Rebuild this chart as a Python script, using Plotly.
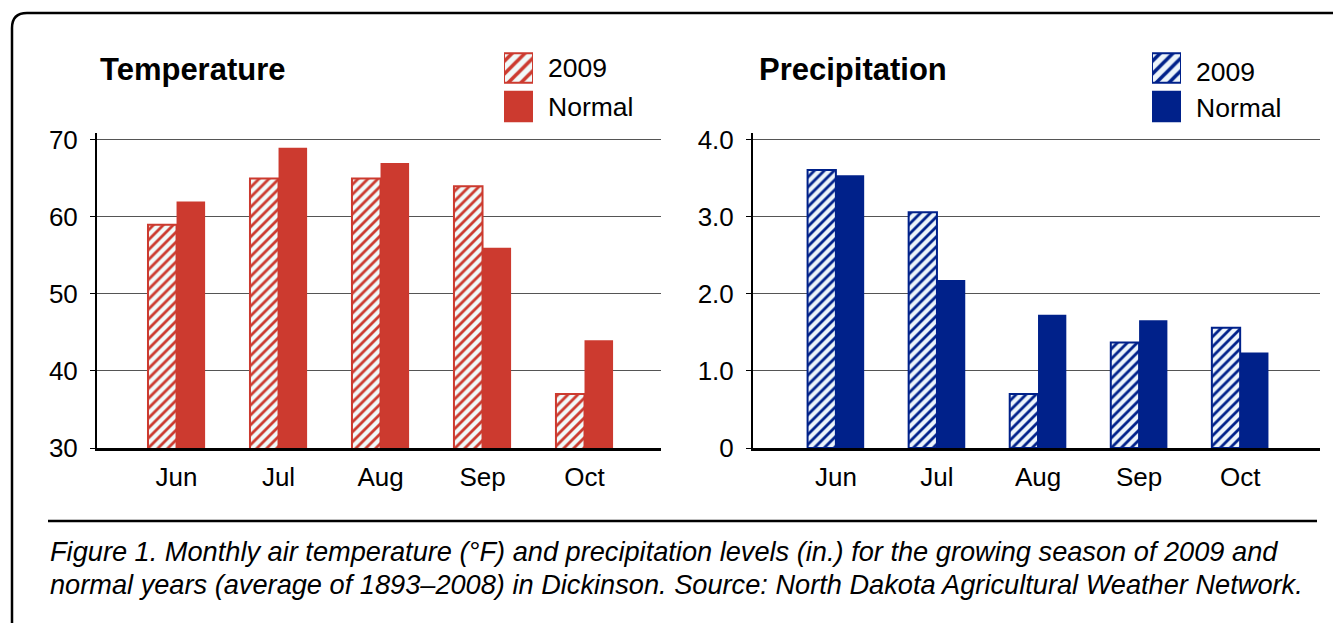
import plotly.graph_objects as go

months = ["Jun", "Jul", "Aug", "Sep", "Oct"]
temp_2009 = [59, 65, 65, 64, 37]
temp_normal = [62, 69, 67, 56, 44]
precip_2009 = [3.61, 3.06, 0.70, 1.37, 1.56]
precip_normal = [3.54, 2.18, 1.73, 1.66, 1.24]
temp_ticks = [30, 40, 50, 60, 70]
precip_ticks = [0, 1, 2, 3, 4]
precip_ticklabels = ["0", "1.0", "2.0", "3.0", "4.0"]
series_names = ["2009", "Normal"]

RED = "#CC3A2F"
BLUE = "#00218A"
W, H = 1341, 623
OFF = 8  # page body margin offset
FONT = "Liberation Sans, Arial, sans-serif"


def px(x):
    return (x - OFF) / W


def py(y):
    return 1 - (y - OFF) / H


fig = go.Figure()

# Temperature bars
fig.add_trace(go.Bar(x=months, y=temp_2009, name=series_names[0], xaxis="x", yaxis="y",
                     marker=dict(color=RED, line=dict(color=RED, width=2),
                                 pattern=dict(shape="/", bgcolor="#f1fafa",
                                              size=7, solidity=0.4, fillmode="replace"))))
fig.add_trace(go.Bar(x=months, y=temp_normal, name=series_names[1], xaxis="x", yaxis="y",
                     marker=dict(color=RED, line=dict(width=0))))
# Precipitation bars
fig.add_trace(go.Bar(x=months, y=precip_2009, name=series_names[0], xaxis="x2", yaxis="y2",
                     marker=dict(color=BLUE, line=dict(color=BLUE, width=2),
                                 pattern=dict(shape="/", bgcolor="#edf5fb",
                                              size=7, solidity=0.4, fillmode="replace"))))
fig.add_trace(go.Bar(x=months, y=precip_normal, name=series_names[1], xaxis="x2", yaxis="y2",
                     marker=dict(color=BLUE, line=dict(width=0))))

# Legend swatches (drawn as bars on small hidden axes)
for col, bg, xa, ya in [(RED, "#f1fafa", "x3", "y3"), (BLUE, "#edf5fb", "x4", "y4")]:
    fig.add_trace(go.Bar(y=series_names, x=[1, 1], orientation="h", xaxis=xa, yaxis=ya,
                         width=0.76, hoverinfo="skip",
                         marker=dict(color=col, line=dict(color=col, width=2),
                                     pattern=dict(shape=["/", ""], bgcolor=[bg, col],
                                                  size=9, solidity=0.4,
                                                  fillmode="replace"))))

common_y = dict(showline=True, linecolor="black", linewidth=2, ticks="outside", ticklen=5,
                tickwidth=1, tickcolor="black", showgrid=True, gridcolor="#555", gridwidth=1,
                zeroline=False, tickfont=dict(family=FONT, size=26, color="black"),
                ticklabelstandoff=7, automargin=False)
common_x = dict(type="category", showline=True, linecolor="black", linewidth=2.5, ticks="",
                showgrid=False, zeroline=False, automargin=False,
                tickfont=dict(family=FONT, size=26, color="black"), ticklabelstandoff=4)

yd = [py(448), py(133)]
fig.update_layout(
    width=W, height=H, margin=dict(l=0, r=0, t=0, b=0, pad=0), autosize=False,
    paper_bgcolor="white", plot_bgcolor="white", showlegend=False,
    barmode="group", bargap=0.44, bargroupgap=0,
    xaxis=dict(domain=[px(97), px(661)], range=[-0.78, 4.75], anchor="y", **common_x),
    yaxis=dict(domain=yd, range=[30, 70.9], tickvals=temp_ticks, anchor="x", **common_y),
    xaxis2=dict(domain=[px(753), px(1320)], range=[-0.82, 4.79], anchor="y2", **common_x),
    yaxis2=dict(domain=yd, range=[0, 4.09], tickvals=precip_ticks, ticktext=precip_ticklabels,
                anchor="x2", **common_y),
    xaxis3=dict(domain=[px(504), px(533)], range=[0, 1], visible=False, anchor="y3",
                automargin=False),
    yaxis3=dict(domain=[py(125.75), py(48.75)], type="category", autorange="reversed",
                visible=False, anchor="x3", automargin=False),
    xaxis4=dict(domain=[px(1152), px(1181)], range=[0, 1], visible=False, anchor="y4",
                automargin=False),
    yaxis4=dict(domain=[py(125.75), py(48.75)], type="category", autorange="reversed",
                visible=False, anchor="x4", automargin=False),
)

ann = []
def text(x, y, s, size, bold=False, italic=False):
    t = s
    if bold:
        t = "<b>" + t + "</b>"
    if italic:
        t = "<i>" + t + "</i>"
    ann.append(dict(x=px(x), y=py(y), xref="paper", yref="paper", xanchor="left",
                    yanchor="middle", text=t, showarrow=False,
                    font=dict(family=FONT, size=size, color="black")))

text(98, 69, "Temperature", 31, bold=True)
text(546, 68, series_names[0], 26.5)
text(546, 107, series_names[1], 26.5)
text(757, 69, "Precipitation", 31, bold=True)
text(1194, 72, series_names[0], 26.5)
text(1194, 108, series_names[1], 26.5)
text(48, 551, "Figure 1. Monthly air temperature (°F) and precipitation levels (in.) for the growing season of 2009 and", 27.2, italic=True)
text(48, 584, "normal years (average of 1893–2008) in Dickinson. Source: North Dakota Agricultural Weather Network.", 27.2, italic=True)
fig.update_layout(annotations=ann)

shapes = [
    dict(type="path", xref="paper", yref="paper",
         path=f"M {px(12)},{py(640)} L {px(12)},{py(28)} Q {px(12)},{py(13)} {px(27)},{py(13)} L {px(1360)},{py(13)}",
         line=dict(color="black", width=2.5)),
    dict(type="line", xref="paper", yref="paper", x0=px(48), x1=px(1317), y0=py(521), y1=py(521),
         line=dict(color="black", width=2.5)),
]
fig.update_layout(shapes=shapes)

fig.write_html("out.html")
